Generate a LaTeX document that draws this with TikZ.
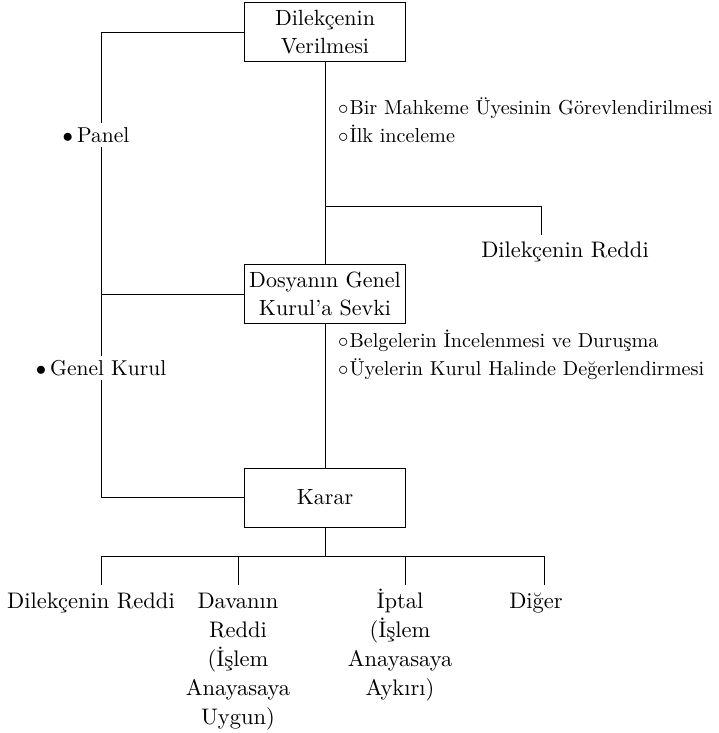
\documentclass[tikz,border=0pt]{standalone}
\usepackage{fontspec}
\setmainfont{lmroman10-regular.otf}
\begin{document}
\begin{tikzpicture}[x=1pt,y={(0pt,-1pt)},
  box/.style={draw, line width=1pt, minimum width=161pt, minimum height=59pt, align=center, inner sep=0pt, font=\fontsize{22}{28}\selectfont},
  outc/.style={align=center, anchor=north, inner sep=0pt, font=\fontsize{22.5}{29}\selectfont},
  rlbl/.style={align=center, inner sep=0pt, font=\fontsize{22.5}{28}\selectfont},
  side/.style={fill=white, inner xsep=2pt, inner ysep=4pt, font=\fontsize{21.5}{28}\selectfont},
  bul/.style={align=left, anchor=west, inner sep=0pt, font=\fontsize{20.2}{28}\selectfont},
  conn/.style={line width=1pt}]
\useasboundingbox (0,0) rectangle (719,733);

% boxes
\node[box] (b1) at (325,32.5) {Dilekçenin\\Verilmesi};
\node[box] (b2) at (325,294) {Dosyanın Genel\\Kurul’a Sevki};
\node[box] (b3) at (325,497.5) {Karar};

% left rail
\coordinate (lt) at (101,32.5);
\coordinate (lm) at (101,294);
\coordinate (lb) at (101,497.5);
\draw[conn] (b1.west) -- (lt) -- (lm) -- (b2.west);
\draw[conn] (lm) -- (lb) -- (b3.west);

% central spine
\draw[conn] (b1.south) -- (b2.north);
\draw[conn] (b2.south) -- (b3.north);

% branch to first rejection
\coordinate (br) at (325,206);
\coordinate (brr) at (541,206);
\coordinate (brd) at (541,235);
\draw[conn] (br) -- (brr) -- (brd);
\node[rlbl] (red1) at (565,252) {Dilekçenin Reddi};

% side labels
\node[side] (panel) at (96,135) {$\bullet$\hspace{4pt}Panel};
\node[side] (genel) at (101,368) {$\bullet$\hspace{4pt}Genel Kurul};

% bullet texts
\node[bul] (t1) at (338,120) {$\circ$\hspace{1pt}Bir Mahkeme Üyesinin Görevlendirilmesi\\$\circ$\hspace{1pt}İlk inceleme};
\node[bul] (t2) at (338,354.5) {$\circ$\hspace{1pt}Belgelerin İncelenmesi ve Duruşma\\$\circ$\hspace{1pt}Üyelerin Kurul Halinde Değerlendirmesi};

% bottom tree
\coordinate (bj) at (325,556);
\coordinate (h1) at (101,556);
\coordinate (h2) at (238,556);
\coordinate (h3) at (405,556);
\coordinate (h4) at (544,556);
\coordinate (d1) at (101,585);
\coordinate (d2) at (238,585);
\coordinate (d3) at (405,585);
\coordinate (d4) at (544,585);
\draw[conn] (b3.south) -- (bj);
\draw[conn] (h1) -- (h4);
\draw[conn] (h1) -- (d1);
\draw[conn] (h2) -- (d2);
\draw[conn] (h3) -- (d3);
\draw[conn] (h4) -- (d4);

\node[outc] (o1) at (91,593) {Dilekçenin Reddi};
\node[outc] (o2) at (238,593) {Davanın\\Reddi\\(İşlem\\Anayasaya\\Uygun)};
\node[outc] (o3) at (400,589) {İptal\\(İşlem\\Anayasaya\\Aykırı)};
\node[outc] (o4) at (536,593) {Diğer};
\end{tikzpicture}
\end{document}
